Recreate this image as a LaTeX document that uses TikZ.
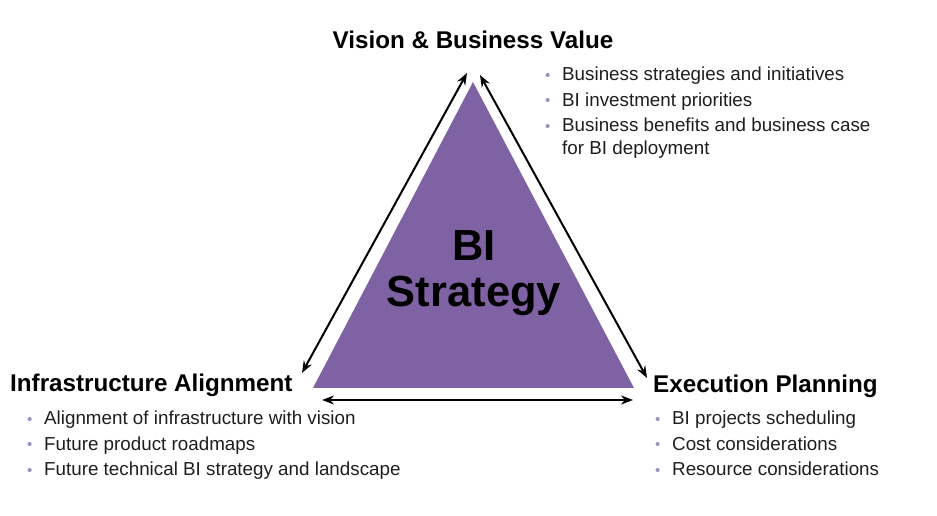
\documentclass[tikz,border=0pt]{standalone}
\usepackage{fontspec}
\setmainfont{Liberation Sans}
\usetikzlibrary{arrows.meta}
\definecolor{bipurple}{HTML}{7F62A3}
\definecolor{dotpurple}{HTML}{9C8FC2}
\definecolor{bodytext}{HTML}{1E1E1E}

\newcommand{\bitem}{\makebox[17pt][l]{\textcolor{dotpurple}{\raisebox{0.5pt}{\fontsize{15}{15}\selectfont\textbullet}}}}

\begin{document}
\begin{tikzpicture}[x=1pt,y=1pt,
            heading/.style = {font=\fontsize{24.2}{26}\selectfont\bfseries, inner sep=0pt},
            points/.style = {font=\fontsize{18.8}{25.5}\selectfont, align=left, inner sep=0pt, text=bodytext},
            link/.style = {{Stealth[length=12pt,width=9pt]}-{Stealth[length=12pt,width=9pt]}, line width=2pt}
            ]
            \useasboundingbox (0,0) rectangle (937,516);
            % triangle
            \coordinate (apex) at (473,434);
            \coordinate (lcorner) at (313,128);
            \coordinate (rcorner) at (634,128);
            \fill[bipurple] (apex) -- (lcorner) -- (rcorner) -- cycle;
            \node[font=\fontsize{43.5}{46}\selectfont\bfseries, align=center, inner sep=0pt] (core) at (474,243) {BI\\Strategy};

            % corners
            \node[heading, anchor=base] (vision) at (473,467) {Vision \& Business Value};
            \node[heading, anchor=base west] (infra) at (10,124) {Infrastructure Alignment};
            \node[heading, anchor=base west] (exec) at (653,123) {Execution Planning};

            \node[points, anchor=north west] (visionpts) at (545,449) {\bitem Business strategies and initiatives\\
                \bitem BI investment priorities\\
                \bitem Business benefits and business case\\[-3pt]
                \hspace*{17pt}for BI deployment};
            \node[points, anchor=north west] (infrapts) at (27,105) {\bitem Alignment of infrastructure with vision\\
                \bitem Future product roadmaps\\
                \bitem Future technical BI strategy and landscape};
            \node[points, anchor=north west] (execpts) at (655,105) {\bitem BI projects scheduling\\
                \bitem Cost considerations\\
                \bitem Resource considerations};

            % arrows
            \coordinate (visL) at (467,443);
            \coordinate (visR) at (480,441);
            \coordinate (infraT) at (302,143);
            \coordinate (infraR) at (322,116);
            \coordinate (execT) at (647,138);
            \coordinate (execL) at (633,116);
            \draw[link] (infraT) -- (visL);
            \draw[link] (visR) -- (execT);
            \draw[link] (infraR) -- (execL);
        \end{tikzpicture}
\end{document}
